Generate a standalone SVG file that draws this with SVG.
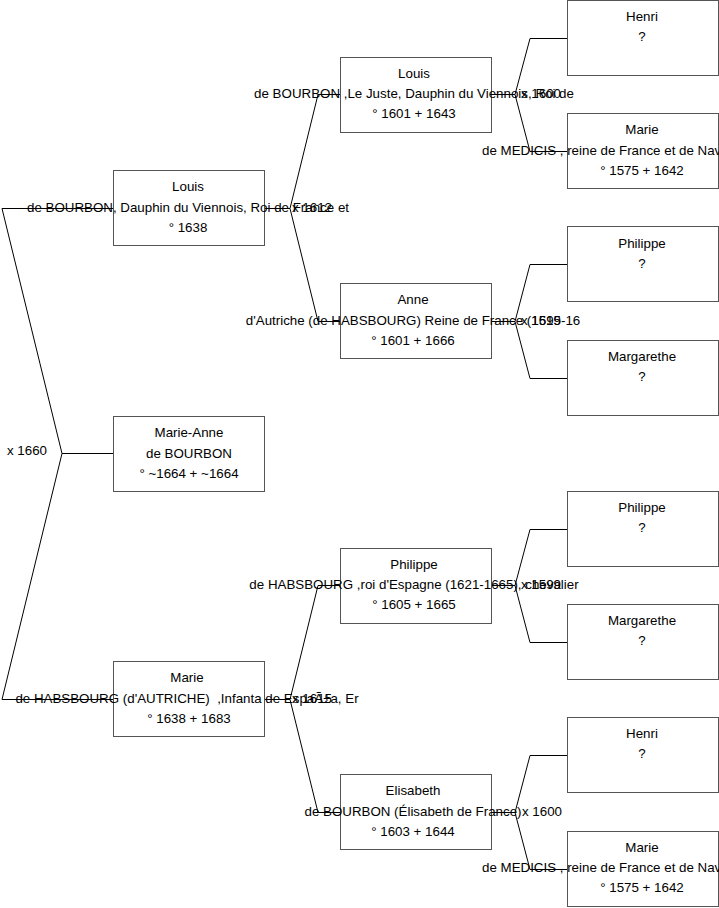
<svg xmlns="http://www.w3.org/2000/svg" width="719" height="908" viewBox="0 0 719 908">
<style>
.box{fill:#fff;stroke:#555;stroke-width:1}
.con{fill:none;stroke:#000;stroke-width:1}
text{font-family:"Liberation Sans",Arial,sans-serif;font-size:13.33px;fill:#000}
.c{text-anchor:middle}
</style>
<rect width="719" height="908" fill="#fff"/>
<g id="connectors" class="con">
<path d="M113.5 453.5 H62 L2 208.5 H113.5 M62 453.5 L2 699.5 H113.5"/>
<path d="M265 208.5 H290 L318 94.5 H341 M290 208.5 L318 321.5 H341"/>
<path d="M265 699.5 H290 L318 585.5 H341 M290 699.5 L318 812.5 H341"/>
<path d="M492 94.5 H515 L530 38.5 H567 M515 94.5 L530 151.5 H567"/>
<path d="M492 321.5 H515 L530 264.5 H567 M515 321.5 L530 378.5 H567"/>
<path d="M492 585.5 H515 L530 529.5 H567 M515 585.5 L530 642.5 H567"/>
<path d="M492 812.5 H515 L530 755.5 H567 M515 812.5 L530 869.5 H567"/>
</g>
<g id="labels">
<text x="7" y="455">x 1660</text>
<text x="292" y="212">x 1612</text>
<text x="292" y="703">x 1615</text>
<text x="521" y="98">x 1600</text>
<text x="521" y="325">x 1599</text>
<text x="521" y="589">x 1599</text>
<text x="522" y="816">x 1600</text>
</g>
<g id="louis14">
<rect class="box" x="113.5" y="170.5" width="151" height="75"/>
<text class="c" x="188" y="191">Louis</text>
<text class="c" x="188" y="212">de BOURBON, Dauphin du Viennois, Roi de France et</text>
<text class="c" x="188" y="232">° 1638</text>
</g>
<g id="marieanne">
<rect class="box" x="113.5" y="416.5" width="151" height="75"/>
<text class="c" x="189" y="437">Marie-Anne</text>
<text class="c" x="189" y="458">de BOURBON</text>
<text class="c" x="189" y="478">° ~1664 + ~1664</text>
</g>
<g id="marietherese">
<rect class="box" x="113.5" y="661.5" width="151" height="75"/>
<text class="c" x="187" y="682">Marie</text>
<text class="c" x="187" y="703" xml:space="preserve">de HABSBOURG (d'AUTRICHE)  ,Infanta de EspaÃ±a, Er</text>
<text class="c" x="189" y="723">° 1638 + 1683</text>
</g>
<g id="louis13">
<rect class="box" x="340.5" y="57.5" width="151" height="75"/>
<text class="c" x="414" y="78">Louis</text>
<text class="c" x="414" y="98">de BOURBON ,Le Juste, Dauphin du Viennois, Roi de</text>
<text class="c" x="414" y="118">° 1601 + 1643</text>
</g>
<g id="anne">
<rect class="box" x="340.5" y="283.5" width="151" height="75"/>
<text class="c" x="413" y="304">Anne</text>
<text class="c" x="413" y="325">d'Autriche (de HABSBOURG) Reine de France (1615-16</text>
<text class="c" x="413" y="345">° 1601 + 1666</text>
</g>
<g id="philippe4">
<rect class="box" x="340.5" y="548.5" width="151" height="75"/>
<text class="c" x="414" y="569">Philippe</text>
<text class="c" x="414" y="589">de HABSBOURG ,roi d'Espagne (1621-1665), chevalier</text>
<text class="c" x="414" y="609">° 1605 + 1665</text>
</g>
<g id="elisabeth">
<rect class="box" x="340.5" y="774.5" width="151" height="75"/>
<text class="c" x="413" y="795">Elisabeth</text>
<text class="c" x="413" y="816">de BOURBON (Élisabeth de France)</text>
<text class="c" x="413" y="836">° 1603 + 1644</text>
</g>
<g id="henri1">
<rect class="box" x="567.5" y="0.5" width="151" height="75"/>
<text class="c" x="642" y="21">Henri</text>
<text class="c" x="642" y="41">?</text>
</g>
<g id="medicis1">
<rect class="box" x="567.5" y="113.5" width="151" height="75"/>
<text class="c" x="642" y="134">Marie</text>
<text x="482" y="155">de MEDICIS , reine de France et de Navarre</text>
<text class="c" x="642" y="175">° 1575 + 1642</text>
</g>
<g id="philippe3a">
<rect class="box" x="567.5" y="226.5" width="151" height="75"/>
<text class="c" x="642" y="248">Philippe</text>
<text class="c" x="642" y="268">?</text>
</g>
<g id="margarethe1">
<rect class="box" x="567.5" y="340.5" width="151" height="75"/>
<text class="c" x="642" y="361">Margarethe</text>
<text class="c" x="642" y="381">?</text>
</g>
<g id="philippe3b">
<rect class="box" x="567.5" y="491.5" width="151" height="75"/>
<text class="c" x="642" y="512">Philippe</text>
<text class="c" x="642" y="532">?</text>
</g>
<g id="margarethe2">
<rect class="box" x="567.5" y="604.5" width="151" height="75"/>
<text class="c" x="642" y="625">Margarethe</text>
<text class="c" x="642" y="645">?</text>
</g>
<g id="henri2">
<rect class="box" x="567.5" y="717.5" width="151" height="75"/>
<text class="c" x="642" y="738">Henri</text>
<text class="c" x="642" y="758">?</text>
</g>
<g id="medicis2">
<rect class="box" x="567.5" y="831.5" width="151" height="75"/>
<text class="c" x="642" y="852">Marie</text>
<text x="482" y="872">de MEDICIS , reine de France et de Navarre</text>
<text class="c" x="642" y="892">° 1575 + 1642</text>
</g>
</svg>
